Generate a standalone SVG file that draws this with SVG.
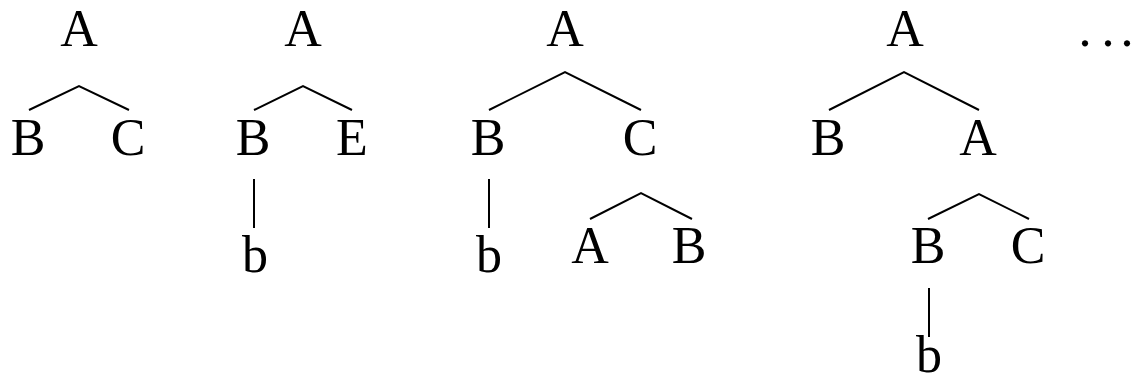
<svg xmlns="http://www.w3.org/2000/svg" width="1132" height="383" viewBox="0 0 1132 383">
<style>
text{font-family:"Liberation Serif","Times New Roman",serif;font-size:52px;fill:#000;text-anchor:middle}
.e{fill:none;stroke:#000;stroke-width:2}
</style>
<rect width="1132" height="383" fill="#fff"/>
<g id="connectors">
<polyline class="e" points="29,110 79,86 129,110"/>
<polyline class="e" points="254,110 303,86 352,110"/>
<line class="e" x1="254" y1="179" x2="254" y2="228"/>
<polyline class="e" points="489,110 565,72 641,110"/>
<line class="e" x1="489" y1="179" x2="489" y2="228"/>
<polyline class="e" points="590,219 641,193 692,219"/>
<polyline class="e" points="829,110 904,72 979,110"/>
<polyline class="e" points="928,219 979,194 1029,219"/>
<line class="e" x1="929" y1="288" x2="929" y2="337"/>
</g>
<g id="t1-A"><text x="79" y="46">A</text></g>
<g id="t1-B"><text x="28" y="155">B</text></g>
<g id="t1-C"><text x="128" y="155">C</text></g>
<g id="t2-A"><text x="303" y="46">A</text></g>
<g id="t2-B"><text x="253" y="155">B</text></g>
<g id="t2-E"><text x="352" y="155">E</text></g>
<g id="t2-b"><text x="255" y="272">b</text></g>
<g id="t3-A"><text x="565" y="46">A</text></g>
<g id="t3-B"><text x="488" y="155">B</text></g>
<g id="t3-C"><text x="640" y="155">C</text></g>
<g id="t3-b"><text x="489" y="272">b</text></g>
<g id="t3-A2"><text x="590" y="263">A</text></g>
<g id="t3-B2"><text x="689" y="263">B</text></g>
<g id="t4-A"><text x="905" y="46">A</text></g>
<g id="t4-B"><text x="828" y="155">B</text></g>
<g id="t4-A2"><text x="978" y="155">A</text></g>
<g id="t4-B2"><text x="928" y="263">B</text></g>
<g id="t4-C2"><text x="1028" y="263">C</text></g>
<g id="t4-b"><text x="929" y="372">b</text></g>
<g id="dots"><text x="1085 1108 1127" y="46">...</text></g>
</svg>
